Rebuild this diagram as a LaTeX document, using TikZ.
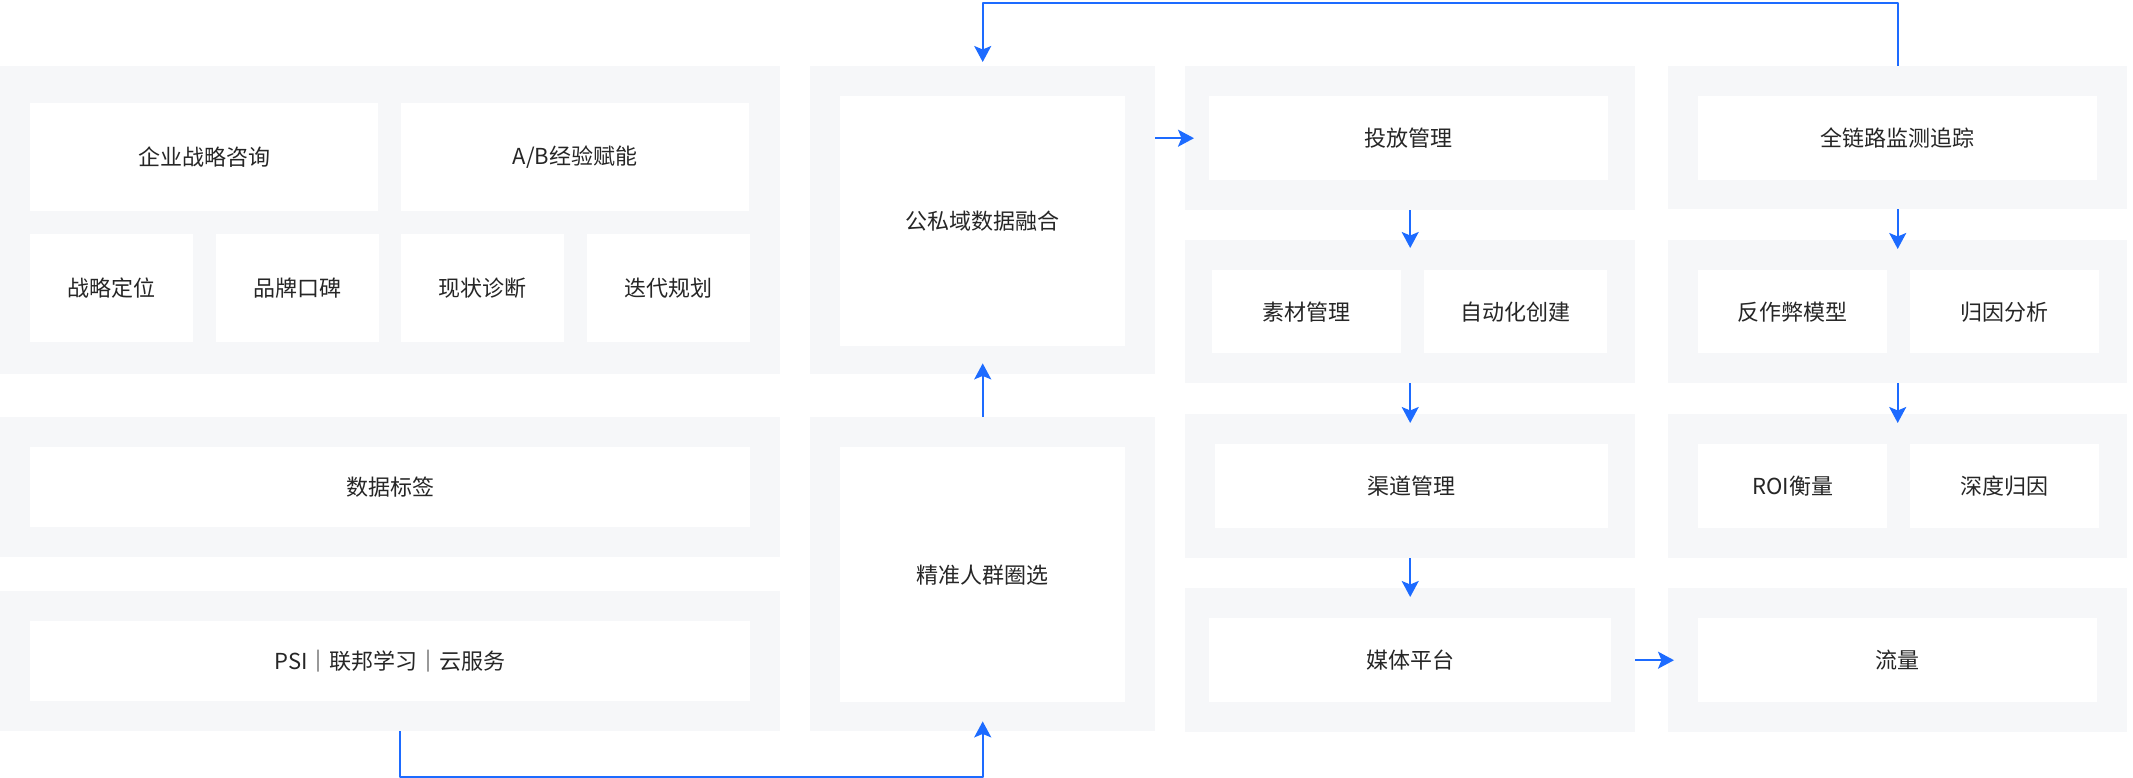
\documentclass[tikz,border=0pt]{standalone}
\usepackage{fontspec}
\setmainfont{Noto Sans CJK SC}
\usetikzlibrary{arrows.meta}

\definecolor{panelgray}{HTML}{F6F7F9}
\definecolor{flowblue}{HTML}{1D6BFF}
\definecolor{labelgray}{HTML}{262626}

\begin{document}
\begin{tikzpicture}[x=1pt, y=-1pt, line join=round,
    panel/.style={fill=panelgray, inner sep=0pt, anchor=north west},
    cell/.style={fill=white, inner sep=0pt, anchor=north west, text=labelgray,
                 font=\fontsize{22}{26}\selectfont},
    flow/.style={draw=flowblue, line width=2pt,
                 -{Stealth[length=16pt, width=17pt, inset=3.5pt]}}]

    \useasboundingbox (0,0) rectangle (2133,778);

    % 1. Left column: consulting, tags, PSI
    \node[panel, minimum width=780pt, minimum height=308pt] (panA) at (0,66) {};
    \node[cell, minimum width=348pt, minimum height=108pt] (strat) at (30,103) {企业战略咨询};
    \node[cell, minimum width=348pt, minimum height=108pt] (ab) at (401,103) {A/B经验赋能};
    \node[cell, minimum width=163pt, minimum height=108pt] (pos) at (30,234) {战略定位};
    \node[cell, minimum width=163pt, minimum height=108pt] (brand) at (216,234) {品牌口碑};
    \node[cell, minimum width=163pt, minimum height=108pt] (diag) at (401,234) {现状诊断};
    \node[cell, minimum width=163pt, minimum height=108pt] (iter) at (587,234) {迭代规划};

    \node[panel, minimum width=780pt, minimum height=140pt] (panB) at (0,417) {};
    \node[cell, minimum width=720pt, minimum height=80pt] (tag) at (30,447) {数据标签};

    \node[panel, minimum width=780pt, minimum height=140pt] (panC) at (0,591) {};
    \node[cell, minimum width=720pt, minimum height=80pt] (psi) at (30,621) {PSI｜联邦学习｜云服务};

    % 2. Middle column: fusion and crowd selection
    \node[panel, minimum width=345pt, minimum height=308pt] (panFuse) at (810,66) {};
    \node[cell, minimum width=285pt, minimum height=250pt] (fuse) at (840,96) {公私域数据融合};

    \node[panel, minimum width=345pt, minimum height=314pt] (panCrowd) at (810,417) {};
    \node[cell, minimum width=285pt, minimum height=255pt] (crowd) at (840,447) {精准人群圈选};

    % 3. Delivery column
    \node[panel, minimum width=450pt, minimum height=144pt] (panDeliver) at (1185,66) {};
    \node[cell, minimum width=399pt, minimum height=84pt] (deliver) at (1209,96) {投放管理};

    \node[panel, minimum width=450pt, minimum height=143pt] (panMat) at (1185,240) {};
    \node[cell, minimum width=189pt, minimum height=83pt] (mat) at (1212,270) {素材管理};
    \node[cell, minimum width=183pt, minimum height=83pt] (auto) at (1424,270) {自动化创建};

    \node[panel, minimum width=450pt, minimum height=144pt] (panChan) at (1185,414) {};
    \node[cell, minimum width=393pt, minimum height=84pt] (chan) at (1215,444) {渠道管理};

    \node[panel, minimum width=450pt, minimum height=144pt] (panMedia) at (1185,588) {};
    \node[cell, minimum width=402pt, minimum height=84pt] (media) at (1209,618) {媒体平台};

    % 4. Tracking column
    \node[panel, minimum width=459pt, minimum height=143pt] (panTrack) at (1668,66) {};
    \node[cell, minimum width=399pt, minimum height=84pt] (track) at (1698,96) {全链路监测追踪};

    \node[panel, minimum width=459pt, minimum height=143pt] (panAnti) at (1668,240) {};
    \node[cell, minimum width=189pt, minimum height=83pt] (anti) at (1698,270) {反作弊模型};
    \node[cell, minimum width=189pt, minimum height=83pt] (attr) at (1910,270) {归因分析};

    \node[panel, minimum width=459pt, minimum height=144pt] (panRoi) at (1668,414) {};
    \node[cell, minimum width=189pt, minimum height=84pt] (roi) at (1698,444) {ROI衡量};
    \node[cell, minimum width=189pt, minimum height=84pt] (deep) at (1910,444) {深度归因};

    \node[panel, minimum width=459pt, minimum height=144pt] (panFlow) at (1668,588) {};
    \node[cell, minimum width=399pt, minimum height=84pt] (flowbox) at (1698,618) {流量};

    % 5. Connectors
    \coordinate (topY) at (0,3);
    \coordinate (botY) at (0,777);

    \draw[flow] (panTrack.north) |- (topY -| panFuse.north) -- ([yshift=4pt]panFuse.north);
    \draw[flow] ([xshift=10pt]panC.south) |- (botY -| panCrowd.south) -- ([yshift=10pt]panCrowd.south);
    \draw[flow] (panCrowd.north) -- ([yshift=11pt]panFuse.south);
    \draw[flow] (panFuse.east |- panDeliver.west) -- ([xshift=9pt]panDeliver.west);

    \draw[flow] (panDeliver.south) -- ([yshift=-8pt]panMat.north);
    \draw[flow] (panMat.south) -- ([yshift=-9pt]panChan.north);
    \draw[flow] (panChan.south) -- ([yshift=-9pt]panMedia.north);
    \draw[flow] (panMedia.east) -- ([xshift=6pt]panFlow.west);

    \draw[flow] (panTrack.south) -- ([yshift=-9pt]panAnti.north);
    \draw[flow] (panAnti.south) -- ([yshift=-9pt]panRoi.north);

\end{tikzpicture}
\end{document}
